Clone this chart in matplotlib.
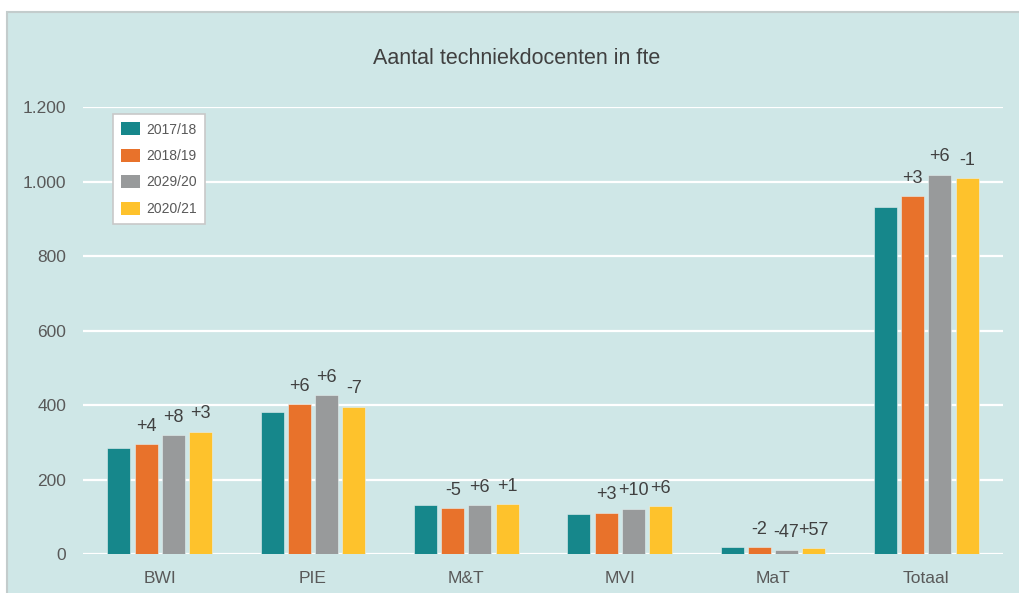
import matplotlib
matplotlib.use("Agg")
import matplotlib.pyplot as plt
from matplotlib.patches import Rectangle, Patch
from matplotlib.ticker import FuncFormatter, FixedLocator
import numpy as np

plt.rcParams['font.family'] = ['Liberation Sans', 'DejaVu Sans']

categories = ['BWI', 'PIE', 'M&T', 'MVI', 'MaT', 'Totaal']
series_names = ['2017/18', '2018/19', '2029/20', '2020/21']
v1718 = [285, 381, 131, 108, 20, 933]
v1819 = [296, 403, 124, 111, 19.6, 961]
v1920 = [320, 426, 132, 122, 10.4, 1019]
v2021 = [329, 396, 133, 129, 16.3, 1010]
ch1718 = ['', '', '', '', '', '']
ch1819 = ['+4', '+6', '-5', '+3', '-2', '+3']
ch1920 = ['+8', '+6', '+6', '+10', '-47', '+6']
ch2021 = ['+3', '-7', '+1', '+6', '+57', '-1']
yticks = [0, 200, 400, 600, 800, 1000, 1200]

colors = ['#16878B', '#E8722B', '#989A9B', '#FEC22C']
bg = '#CFE7E7'
W, H = 1019, 593

fig = plt.figure(figsize=(W / 100, H / 100), dpi=100, facecolor='white')
fig.patches.append(Rectangle((7 / W, -0.1), 1.2, 1 - 12 / H + 0.1, transform=fig.transFigure,
                             facecolor=bg, edgecolor='#C3CCCC', lw=1.5, zorder=-10))

ax = fig.add_axes([83 / W, 1 - 554 / H, (1003 - 83) / W, (554 - 107.3) / H])
ax.set_facecolor('none')

x = np.arange(len(categories))
pitch = 0.177
width = 0.15
allvals = [v1718, v1819, v1920, v2021]
allch = [ch1718, ch1819, ch1920, ch2021]
for i, (vals, chs) in enumerate(zip(allvals, allch)):
    pos = x + (i - 1.5) * pitch
    ax.bar(pos, vals, width, color=colors[i], edgecolor='#E6F0F0', linewidth=0.4, zorder=3,
           label=series_names[i])
    for px, v, c in zip(pos, vals, chs):
        if c:
            ax.annotate(c, (px, v), xytext=(0, 9.5), textcoords='offset points',
                        ha='center', va='baseline', fontsize=13, color='#404040', zorder=4)

ax.set_xlim(-0.5, len(categories) - 0.5)
ax.set_ylim(0, 1200)
ax.yaxis.set_major_locator(FixedLocator(yticks))
ax.yaxis.set_major_formatter(FuncFormatter(lambda v, p: f"{int(v):,}".replace(',', '.')))
ax.set_xticks(x)
ax.set_xticklabels(categories)
ax.tick_params(axis='both', length=0, labelsize=12.5, labelcolor='#595959')
ax.tick_params(axis='y', pad=12)
ax.tick_params(axis='x', pad=12)
ax.grid(axis='y', color='white', lw=1.6, zorder=1)
for s in ax.spines.values():
    s.set_visible(False)

fig.text(517 / W, 1 - 58 / H, 'Aantal techniekdocenten in fte', ha='center', va='center',
         fontsize=15.5, color='#404040')

handles = [Patch(facecolor=c, edgecolor='none') for c in colors]
leg = ax.legend(handles, series_names, loc='upper left', bbox_to_anchor=(113 / W, 1 - 114 / H),
                bbox_transform=fig.transFigure, borderaxespad=0, fontsize=10,
                frameon=True, fancybox=False, framealpha=1, edgecolor='#C8C8C8',
                handlelength=1.37, handleheight=1.08, labelspacing=0.87, handletextpad=0.4,
                borderpad=0.6, labelcolor='#595959')
leg.get_frame().set_linewidth(1.2)
leg.set_zorder(5)

fig.savefig('out.png', dpi=100, facecolor='white')
